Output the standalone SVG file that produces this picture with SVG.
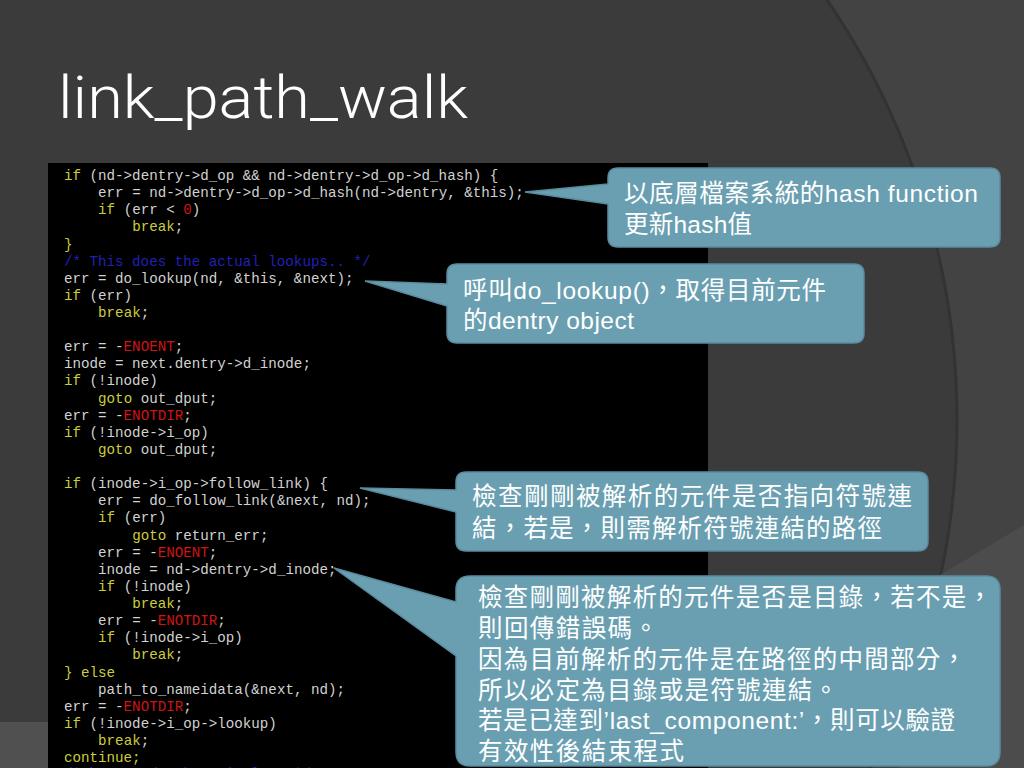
<svg xmlns="http://www.w3.org/2000/svg" width="1024" height="768" viewBox="0 0 1024 768">
<defs>
<style>
.code{font-family:"Liberation Mono","DejaVu Sans Mono",monospace;font-size:14.2px;fill:#d2d2d2}
.k{fill:#cdcd3c}
.c{fill:#d01414}
.m{fill:#2020b8}
.callout{fill:#6a9fb2;stroke:#5a8c9e;stroke-width:1.5}
.ct{font-family:"Liberation Sans","Noto Sans CJK TC",sans-serif;font-size:24.5px;fill:#ffffff}
</style>
</defs>
<g id="background">
<rect width="1024" height="768" fill="#434343"/>
<circle cx="214" cy="420" r="743" fill="#3b3b3b" stroke="#333333" stroke-width="3"/>
<polygon points="1024,525 935,578 900,768 1024,768" fill="#4c4c4c"/>
<rect x="0" y="722" width="48" height="46" fill="#505050"/>
</g>
<g id="title">
<text x="58" y="118" font-family="Roboto,'Liberation Sans',sans-serif" font-weight="300" font-size="60" fill="#ffffff" textLength="410" lengthAdjust="spacingAndGlyphs">link_path_walk</text>
</g>
<g id="code">
<rect x="48" y="163" width="660" height="605" fill="#000000"/>
<g class="code" xml:space="preserve">
<text x="64" y="180"><tspan class="k">if</tspan> (nd-&gt;dentry-&gt;d_op &amp;&amp; nd-&gt;dentry-&gt;d_op-&gt;d_hash) {</text>
<text x="98.1" y="197.1">err = nd-&gt;dentry-&gt;d_op-&gt;d_hash(nd-&gt;dentry, &amp;this);</text>
<text x="98.1" y="214.2"><tspan class="k">if</tspan> (err &lt; <tspan class="c">0</tspan>)</text>
<text x="132.2" y="231.4"><tspan class="k">break</tspan>;</text>
<text x="64" y="248.5" class="k">}</text>
<text x="64" y="265.6" class="m">/* This does the actual lookups.. */</text>
<text x="64" y="282.7">err = do_lookup(nd, &amp;this, &amp;next);</text>
<text x="64" y="299.8"><tspan class="k">if</tspan> (err)</text>
<text x="98.1" y="317"><tspan class="k">break</tspan>;</text>
<text x="64" y="351.2">err = -<tspan class="c">ENOENT</tspan>;</text>
<text x="64" y="368.3">inode = next.dentry-&gt;d_inode;</text>
<text x="64" y="385.4"><tspan class="k">if</tspan> (!inode)</text>
<text x="98.1" y="402.6"><tspan class="k">goto</tspan> out_dput;</text>
<text x="64" y="419.7">err = -<tspan class="c">ENOTDIR</tspan>;</text>
<text x="64" y="436.8"><tspan class="k">if</tspan> (!inode-&gt;i_op)</text>
<text x="98.1" y="453.9"><tspan class="k">goto</tspan> out_dput;</text>
<text x="64" y="488.2"><tspan class="k">if</tspan> (inode-&gt;i_op-&gt;follow_link) {</text>
<text x="98.1" y="505.3">err = do_follow_link(&amp;next, nd);</text>
<text x="98.1" y="522.4"><tspan class="k">if</tspan> (err)</text>
<text x="132.2" y="539.5"><tspan class="k">goto</tspan> return_err;</text>
<text x="98.1" y="556.6">err = -<tspan class="c">ENOENT</tspan>;</text>
<text x="98.1" y="573.8">inode = nd-&gt;dentry-&gt;d_inode;</text>
<text x="98.1" y="590.9"><tspan class="k">if</tspan> (!inode)</text>
<text x="132.2" y="608"><tspan class="k">break</tspan>;</text>
<text x="98.1" y="625.1">err = -<tspan class="c">ENOTDIR</tspan>;</text>
<text x="98.1" y="642.2"><tspan class="k">if</tspan> (!inode-&gt;i_op)</text>
<text x="132.2" y="659.4"><tspan class="k">break</tspan>;</text>
<text x="64" y="676.5" class="k">} else</text>
<text x="98.1" y="693.6">path_to_nameidata(&amp;next, nd);</text>
<text x="64" y="710.7">err = -<tspan class="c">ENOTDIR</tspan>;</text>
<text x="64" y="727.8"><tspan class="k">if</tspan> (!inode-&gt;i_op-&gt;lookup)</text>
<text x="98.1" y="745"><tspan class="k">break</tspan>;</text>
<text x="64" y="762.1" class="k">continue;</text>
<text x="64" y="777.5" class="m">/* here ends the main loop */</text>
</g>
</g>
<g id="callout1" xml:lang="zh-TW">
<path class="callout" d="M618,168 H990 Q1000,168 1000,178 V237 Q1000,247 990,247 H618 Q608,247 608,237 V204 L525,192 L608,184 V178 Q608,168 618,168 Z"/>
<text class="ct" x="624" y="202" textLength="354" lengthAdjust="spacing">以底層檔案系統的hash function</text>
<text class="ct" x="624" y="233" textLength="128" lengthAdjust="spacing">更新hash值</text>
</g>
<g id="callout2" xml:lang="zh-TW">
<path class="callout" d="M457,264 H854 Q864,264 864,274 V333 Q864,343 854,343 H457 Q447,343 447,333 V306 L365,281 L447,284 V274 Q447,264 457,264 Z"/>
<text class="ct" x="463" y="299" textLength="363" lengthAdjust="spacing">呼叫do_lookup()，取得目前元件</text>
<text class="ct" x="463" y="329" textLength="171" lengthAdjust="spacing">的dentry object</text>
</g>
<g id="callout3" xml:lang="zh-TW">
<path class="callout" d="M466,472 H918 Q928,472 928,482 V541 Q928,551 918,551 H466 Q456,551 456,541 V512 L360,488 L456,490 V482 Q456,472 466,472 Z"/>
<text class="ct" x="472" y="505" textLength="440" lengthAdjust="spacing">檢查剛剛被解析的元件是否指向符號連</text>
<text class="ct" x="472" y="537" textLength="410" lengthAdjust="spacing">結，若是，則需解析符號連結的路徑</text>
</g>
<g id="callout4" xml:lang="zh-TW">
<path class="callout" d="M470,576 H986 Q1000,576 1000,590 V752 Q1000,766 986,766 H470 Q456,766 456,752 V656 L334,568 L456,602 V590 Q456,576 470,576 Z"/>
<text class="ct" x="478" y="606" textLength="514" lengthAdjust="spacing">檢查剛剛被解析的元件是否是目錄，若不是，</text>
<text class="ct" x="478" y="637" textLength="180" lengthAdjust="spacing">則回傳錯誤碼。</text>
<text class="ct" x="478" y="668" textLength="488" lengthAdjust="spacing">因為目前解析的元件是在路徑的中間部分，</text>
<text class="ct" x="478" y="699" textLength="360" lengthAdjust="spacing">所以必定為目錄或是符號連結。</text>
<text class="ct" x="478" y="729" textLength="477" lengthAdjust="spacing">若是已達到’last_component:’，則可以驗證</text>
<text class="ct" x="478" y="760" textLength="206" lengthAdjust="spacing">有效性後結束程式</text>
</g>
</svg>
